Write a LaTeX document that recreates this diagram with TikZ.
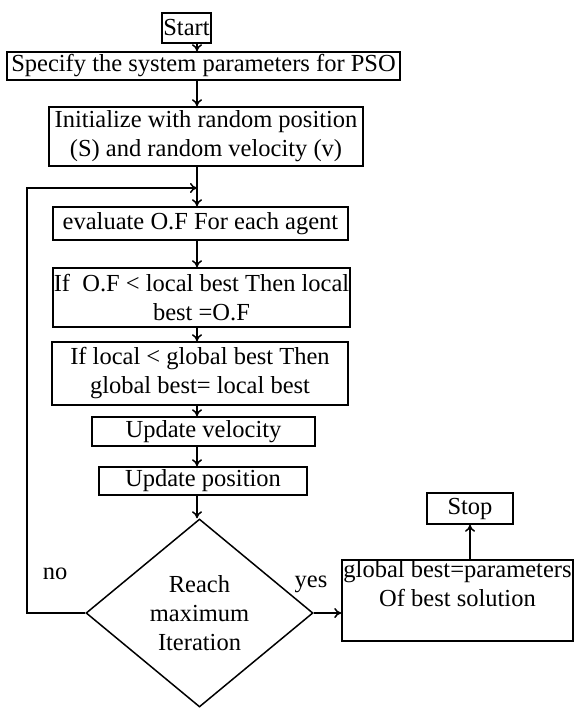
\documentclass[tikz,border=0pt]{standalone}
\usepackage{fontspec}
\setmainfont{Liberation Serif}
\usetikzlibrary{shapes,arrows.meta,positioning}

\begin{document}
\begin{tikzpicture}[x=1pt,y=-1pt,
  box/.style={draw,line width=1.5pt,shape=rectangle,align=center,inner sep=0pt,font=\fontsize{24.5}{29}\selectfont},
  arr/.style={line width=1.5pt,-{To[length=7pt,width=10pt]}},
  lbl/.style={inner sep=0pt,font=\fontsize{24.5}{29}\selectfont}]
\useasboundingbox (0,0) rectangle (575,709);
\coordinate (spine) at (197,0);
\node[box,minimum width=49pt,minimum height=30pt] (start) at (186.5,28) {Start};
\node[box,minimum width=393pt,minimum height=28pt] (spec) at (203.5,66) {Specify the system parameters for PSO};
\node[box,minimum width=314pt,minimum height=59pt] (init) at (206,136.5) {Initialize with random position\\(S) and random velocity (v)};
\node[box,minimum width=295pt,minimum height=33pt] (eval) at (200.5,223.5) {evaluate O.F For each agent};
\node[box,minimum width=297pt,minimum height=59pt] (ifof) at (201.5,297.5) {If~ O.F < local best Then local\\best =O.F};
\node[box,minimum width=296pt,minimum height=63pt] (iflocal) at (200,373.5) {If local < global best Then\\global best= local best};
\node[box,minimum width=223pt,minimum height=29pt] (vel) at (203.5,431.5) {Update velocity};
\node[box,minimum width=208pt,minimum height=28pt] (pos) at (203,481) {Update position};
\node[box,shape=diamond,minimum width=227pt,minimum height=188pt] (dec) at (199.5,613) {Reach\\maximum\\Iteration};
\node[box,minimum width=231pt,minimum height=73pt] (glob) at (457.5,600.5) {global best=parameters\\Of best solution\\[6pt]};
\node[box,minimum width=86pt,minimum height=31pt] (stop) at (470,508.5) {Stop};
\node[lbl] (no) at (55,574) {no};
\node[lbl] (yes) at (311,584) {yes};
\coordinate (join) at (197,188);
\coordinate (back) at (27,613);
\draw[arr] (start.south -| spine) -- (spec.north -| spine);
\draw[arr] (spec.south -| spine) -- (init.north -| spine);
\draw[arr] (init.south -| spine) -- (eval.north -| spine);
\draw[arr] (eval.south -| spine) -- (ifof.north -| spine);
\draw[arr] (ifof.south -| spine) -- (iflocal.north -| spine);
\draw[arr] (iflocal.south -| spine) -- (vel.north -| spine);
\draw[arr] (vel.south -| spine) -- (pos.north -| spine);
\draw[arr] (pos.south -| spine) -- (dec.north -| spine);
\draw[arr] (dec.west) -- (back) |- (join);
\draw[arr] (dec.east) -- (glob.west |- dec.east);
\draw[arr] (glob.north -| stop) -- (stop.south);
\end{tikzpicture}
\end{document}
